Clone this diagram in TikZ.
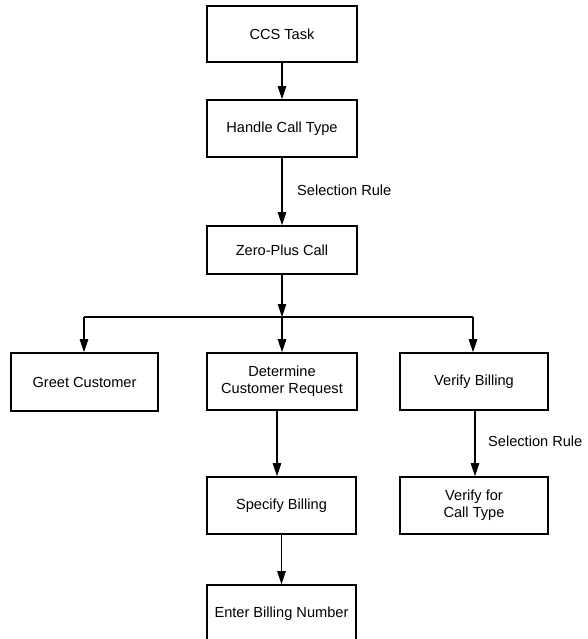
\documentclass[tikz,border=0pt]{standalone}
\usepackage{fontspec}
\setmainfont{Liberation Sans}
\usetikzlibrary{arrows.meta}
\begin{document}
\begin{tikzpicture}[x=1pt,y=-1pt,
  box/.style={draw, line width=1.6pt, rectangle, inner sep=0pt, align=center,
    font=\fontsize{14.6}{17}\selectfont},
  arr/.style={line width=1.2pt, -{Triangle[length=13pt,width=8.5pt]}},
  conn/.style={line width=1.2pt},
  lbl/.style={anchor=west, inner sep=0pt, font=\fontsize{14.6}{17}\selectfont}]
\useasboundingbox (0,0) rectangle (587,639);
\node[box, minimum width=150pt, minimum height=56pt] (ccs) at (282,34) {CCS Task};
\node[box, minimum width=150pt, minimum height=57pt] (handle) at (282,128.5) {Handle Call Type};
\node[box, minimum width=150pt, minimum height=48pt] (zero) at (282,250) {Zero-Plus Call};
\node[box, minimum width=147pt, minimum height=58pt] (greet) at (84.5,382) {Greet Customer};
\node[box, minimum width=150pt, minimum height=57pt] (det) at (282,381.5) {Determine\\Customer Request};
\node[box, minimum width=148pt, minimum height=57pt] (ver) at (474,381.5) {Verify Billing};
\node[box, minimum width=149pt, minimum height=57pt] (spec) at (281.5,505.5) {Specify Billing};
\node[box, minimum width=148pt, minimum height=57pt] (vct) at (474,505.5) {Verify for\\Call Type};
\node[box, minimum width=149pt, minimum height=57pt] (enter) at (281.5,613.5) {Enter Billing Number};
\coordinate (J) at (282,317);
\coordinate (JL) at (84,317);
\coordinate (JR) at (473,317);
\draw[arr] (ccs.south) -- (handle.north);
\draw[arr] (handle.south) -- (zero.north);
\draw[arr] (zero.south) -- (J);
\draw[conn] (JL) -- (JR);
\draw[arr] (J) -- (det.north);
\draw[arr] (JL) -- (JL |- greet.north);
\draw[arr] (JR) -- (JR |- ver.north);
\draw[arr] ([xshift=-5pt]det.south) -- ([xshift=-4.5pt]spec.north);
\draw[arr] (spec.south) -- (enter.north);
\draw[arr] ([xshift=1pt]ver.south) -- ([xshift=1pt]vct.north);
\node[lbl] (sr1) at (297,190) {Selection Rule};
\node[lbl] (sr2) at (488,441) {Selection Rule};
\end{tikzpicture}
\end{document}
